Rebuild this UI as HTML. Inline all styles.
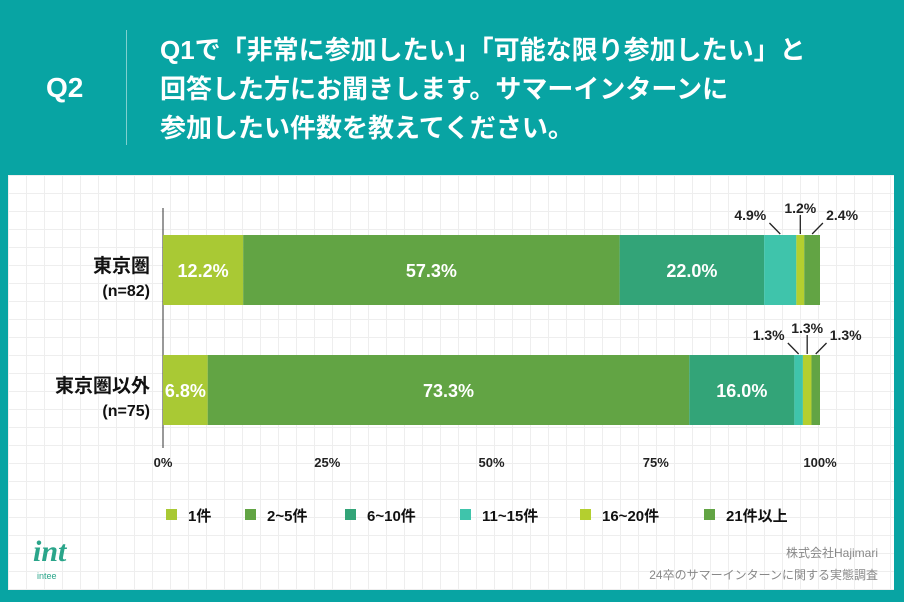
<!DOCTYPE html><html><head><meta charset="utf-8"><style>
body{margin:0;width:904px;height:602px;background:#08a4a3;font-family:"Liberation Sans","Noto Sans CJK JP",sans-serif;overflow:hidden;position:relative}
.t{position:absolute;color:#fff;font-weight:bold}
#card{position:absolute;left:8px;top:175px;width:886px;height:415px;background:#fff;
background-image:linear-gradient(#eee 1px,transparent 1px),linear-gradient(90deg,#eee 1px,transparent 1px);background-size:18px 18px}
</style></head><body>
<div class="t" style="left:46px;top:72px;font-size:28px">Q2</div>
<div style="position:absolute;left:126px;top:30px;width:1px;height:115px;background:#7fd0cf"></div>
<div class="t" style="left:160px;top:31px;font-size:26px;line-height:39px;white-space:nowrap">Q1で「非常に参加したい」「可能な限り参加したい」と<br>回答した方にお聞きします。サマーインターンに<br>参加したい件数を教えてください。</div>
<div id="card"></div>
<svg id="ch" width="904" height="602" style="position:absolute;left:0;top:0" font-family="Liberation Sans, Noto Sans CJK JP, sans-serif"></svg>
<div style="position:absolute;left:33px;top:535px;color:#2aa58a;font:italic bold 30px 'Liberation Serif',serif">int</div>
<div style="position:absolute;left:37px;top:571px;color:#2aa58a;font-size:9px">intee</div>
<div style="position:absolute;right:26px;top:542px;color:#888;font-size:12px;text-align:right;line-height:22px">株式会社Hajimari<br>24卒のサマーインターンに関する実態調査</div>
<script>
const categories=["東京圏","東京圏以外"];
const sublabels=["(n=82)","(n=75)"];
const seriesNames=["1件","2~5件","6~10件","11~15件","16~20件","21件以上"];
const s1=[12.2,6.8],s2=[57.3,73.3],s3=[22.0,16.0],s4=[4.9,1.3],s5=[1.2,1.3],s6=[2.4,1.3];
const ticks=[0,25,50,75,100];
const colors=["#a9c934","#62a444","#33a478","#3fc4ab","#b4cf2f","#62a444"];
const series=[s1,s2,s3,s4,s5,s6];
const svg=document.getElementById('ch'),NS="http://www.w3.org/2000/svg";
const X=v=>163+v*6.57, Y=i=>235+i*120, BH=70;
function el(t,a,txt){const e=document.createElementNS(NS,t);for(const k in a)e.setAttribute(k,a[k]);if(txt!=null)e.textContent=txt;svg.appendChild(e);return e;}
let ax=el('line',{x1:163,x2:163,y1:208,y2:448,stroke:'#333','stroke-width':1});

ticks.forEach(t=>{const e=el('text',{x:X(t),y:467,'font-size':13,'font-weight':'bold','text-anchor':'middle',fill:'#222'},t+'%');
});
categories.forEach((c,i)=>{
 const y=Y(i);
 let a=el('text',{x:150,y:y+37,'font-size':19,'font-weight':'bold','text-anchor':'end',fill:'#111'},c);
 
 let b=el('text',{x:150,y:y+61,'font-size':16,'font-weight':'bold','text-anchor':'end',fill:'#111'},sublabels[i]);
 
 let cum=0;const small=[];
 series.forEach((s,j)=>{
  const v=s[i],x0=X(cum),w=X(cum+v)-x0;
  const r=el('rect',{x:x0,y:y,width:w,height:BH,fill:colors[j]});
  
  if(v>=5){const tx=el('text',{x:x0+w/2,y:y+BH/2+7,'font-size':18,'font-weight':'bold','text-anchor':'middle',fill:'#fff'},v.toFixed(1)+'%');
   }
  else small.push([x0+w/2,v]);
  cum+=v;});
 const offs=[[-18,-26,'end'],[0,-12,'middle'],[18,-26,'start']];
 small.forEach((p,k)=>{const o=offs[k]||offs[2];const cx=p[0];
  const l=el('line',{x1:cx,y1:y-1,x2:cx+(o[0]?o[0]*0.6:0),y2:y+(o[0]?-12:-20),stroke:'#222','stroke-width':1.3});
  
  const tx=el('text',{x:cx+o[0]+(o[2]=='end'?4:o[2]=='start'?-4:0),y:y+(o[0]?-15:-22),'font-size':14,'font-weight':'bold','text-anchor':o[2],fill:'#222'},p[1].toFixed(1)+'%');
  });
});
const lx=[166,245,345,460,580,704];
seriesNames.forEach((n,j)=>{
 const r=el('rect',{x:lx[j],y:509,width:11,height:11,fill:colors[j]});
 
 const t=el('text',{x:lx[j]+22,y:521,'font-size':15,'font-weight':'bold',fill:'#111'},n);
 });
</script></body></html>
